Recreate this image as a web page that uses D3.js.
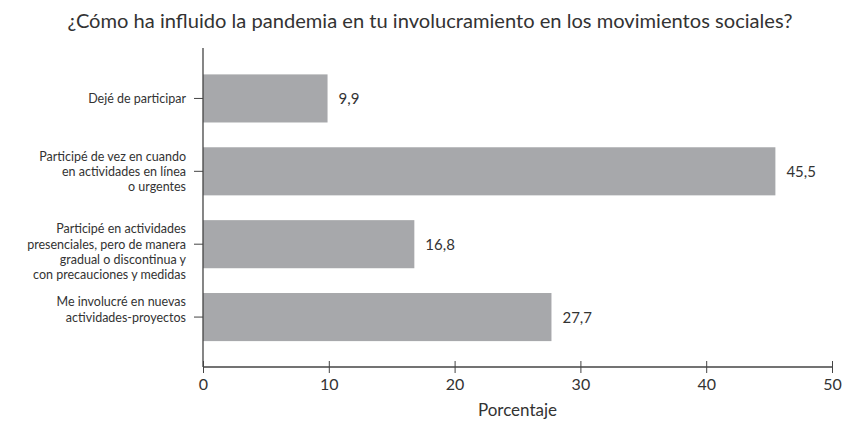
<!DOCTYPE html>
<html><head><meta charset="utf-8">
<script src="https://cdn.jsdelivr.net/npm/d3@7"></script>
<style>body{margin:0;background:#fff}svg{display:block}text{font-family:Lato,sans-serif;fill:#333}</style>
</head><body><svg id="c" width="843" height="424"></svg>
<script>
const title = "¿Cómo ha influido la pandemia en tu involucramiento en los movimientos sociales?";
const categories = [
  ["Dejé de participar"],
  ["Participé de vez en cuando", "en actividades en línea", "o urgentes"],
  ["Participé en actividades", "presenciales, pero de manera", "gradual o discontinua y", "con precauciones y medidas"],
  ["Me involucré en nuevas", "actividades-proyectos"]
];
const values = [9.9, 45.5, 16.8, 27.7];
const valueLabels = ["9,9", "45,5", "16,8", "27,7"];
const xTicks = [0, 10, 20, 30, 40, 50];
const xTitle = "Porcentaje";

const svg = d3.select("#c");
const m = {left: 203, right: 832, top: 48, bottom: 367};
const x = d3.scaleLinear().domain([0, 50]).range([m.left, m.right]);
const y = d3.scaleBand().domain(d3.range(values.length)).range([62, 353.5]).paddingInner(0.34).paddingOuter(0.17);

// title
const t = svg.append("text").attr("x", 430).attr("y", 20).attr("text-anchor", "middle")
  .attr("dominant-baseline", "central").style("font-size", "16px").text(title);
const w = t.node().getComputedTextLength();
t.style("font-size", (16 * 725 / w).toFixed(2) + "px");

// bars
svg.selectAll("rect.bar").data(values).join("rect").attr("class", "bar")
  .attr("x", x(0)).attr("y", (d, i) => y(i)).attr("width", d => x(d) - x(0))
  .attr("height", y.bandwidth()).attr("fill", "#a7a8ab");

// value labels
svg.selectAll("text.val").data(values).join("text").attr("class", "val")
  .attr("x", d => x(d) + 11).attr("y", (d, i) => y(i) + y.bandwidth() / 2)
  .attr("dominant-baseline", "central").style("font-size", "15px")
  .text((d, i) => valueLabels[i]);

// y axis
svg.append("line").attr("x1", m.left).attr("x2", m.left).attr("y1", m.top).attr("y2", m.bottom)
  .attr("stroke", "#444").attr("stroke-width", 1.3);
const yc = i => y(i) + y.bandwidth() / 2;
svg.selectAll("line.ytick").data(values).join("line").attr("class", "ytick")
  .attr("x1", m.left - 9).attr("x2", m.left).attr("y1", (d, i) => yc(i)).attr("y2", (d, i) => yc(i))
  .attr("stroke", "#444").attr("stroke-width", 1);
const lh = 15.2;
categories.forEach((lines, i) => {
  const off = lines.length > 1 ? 1 : 0;
  const g = svg.append("text").attr("text-anchor", "end").style("font-size", "12.5px");
  lines.forEach((ln, j) => {
    g.append("tspan").attr("x", 186).attr("y", yc(i) + (j - off) * lh).attr("dominant-baseline", "central").text(ln);
  });
});

// x axis
const xa = d3.axisBottom(x).tickValues(xTicks).tickSize(6).tickPadding(10).tickFormat(d3.format("d"));
const gx = svg.append("g").attr("transform", `translate(0,${m.bottom})`).call(xa);
gx.select(".domain").attr("stroke", "#444").attr("stroke-width", 1.3).attr("d", `M${m.left},0H${m.right}`);
gx.selectAll(".tick line").attr("stroke", "#444").attr("y1", -6).attr("y2", 6);
gx.selectAll(".tick text").style("font-size", "16px").style("font-family", "Lato,sans-serif").attr("fill", "#333").attr("y", 12).attr("dy", "0.71em");

svg.append("text").attr("x", (m.left + m.right) / 2).attr("y", 409).attr("text-anchor", "middle")
  .attr("dominant-baseline", "central").style("font-size", "17px").text(xTitle);
</script></body></html>
